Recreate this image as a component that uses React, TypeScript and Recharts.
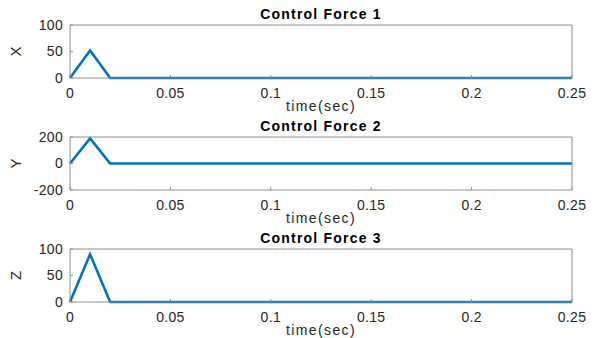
import React from 'react';
import { LineChart, Line, XAxis, YAxis } from 'recharts';

const timeSec = [0, 0.01, 0.02, 0.25];
const forceX = [0, 52, 0, 0];
const forceY = [0, 190, 0, 0];
const forceZ = [0, 90, 0, 0];
const timeTicks = [0, 0.05, 0.1, 0.15, 0.2, 0.25];
const xForceTicks = [0, 50, 100];
const yForceTicks = [-200, 0, 200];
const zForceTicks = [0, 50, 100];
const titles = ['Control Force 1', 'Control Force 2', 'Control Force 3'];
const axisNames = ['X', 'Y', 'Z'];
const timeLabel = 'time(sec)';

const panels = [
  { values: forceX, ticks: xForceTicks },
  { values: forceY, ticks: yForceTicks },
  { values: forceZ, ticks: zForceTicks },
].map((p, i) => ({
  ...p,
  title: titles[i],
  name: axisNames[i],
  data: timeSec.map((t, j) => ({ t, v: p.values[j] })),
}));

const FONT = '"Liberation Sans", Arial, Helvetica, sans-serif';
const AXIS = '#8c8c8c';
const TEXT = '#262626';
const BLUE = '#0072BD';

const W = 596;
const H = 114;
const TOP_H = 25;
const BOTTOM_H = 36;
const LEFT_W = 70;
const RIGHT_W = 24;

const TitleLabel = (props: any) => {
  const vb = props.viewBox || { x: LEFT_W, y: 0, width: W - LEFT_W - RIGHT_W, height: TOP_H };
  const cx = vb.x + vb.width / 2;
  return (
    <text x={cx} y={vb.y + vb.height - 6} textAnchor="middle" fontFamily={FONT} fontSize={14}
      fontWeight="bold" letterSpacing={1.2} fill="#000">{props.text}</text>
  );
};

const TimeLabel = (props: any) => {
  const vb = props.viewBox || { x: LEFT_W, y: H - BOTTOM_H, width: W - LEFT_W - RIGHT_W, height: BOTTOM_H };
  const cx = vb.x + vb.width / 2;
  return (
    <text x={cx} y={vb.y + 33} textAnchor="middle" fontFamily={FONT} fontSize={14}
      letterSpacing={1.4} fill={TEXT}>{props.text}</text>
  );
};

const NameLabel = (props: any) => {
  const vb = props.viewBox || { x: 0, y: TOP_H, width: LEFT_W, height: H - TOP_H - BOTTOM_H };
  const cx = vb.x + 15;
  const cy = vb.y + vb.height / 2;
  return (
    <text x={cx} y={cy} transform={`rotate(-90 ${cx} ${cy})`} textAnchor="middle"
      dominantBaseline="central" fontFamily={FONT} fontSize={15} fill={TEXT}>{props.text}</text>
  );
};

const tickStyle = { fontFamily: FONT, fontSize: 14, fill: TEXT, letterSpacing: 0.3 };

function Panel({ p }: { p: any }) {
  const domain = [p.ticks[0], p.ticks[p.ticks.length - 1]];
  return (
    <LineChart width={W} height={H} data={p.data} margin={{ top: 0, right: 0, bottom: 0, left: 0 }}>
      <XAxis xAxisId="b" dataKey="t" type="number" domain={[0, 0.25]} ticks={timeTicks}
        interval={0} height={BOTTOM_H} stroke={AXIS} tickSize={-3} tickMargin={13}
        tick={tickStyle} tickLine={{ stroke: AXIS }} axisLine={{ stroke: AXIS }}
        label={<TimeLabel text={timeLabel} />} />
      <XAxis xAxisId="top" orientation="top" dataKey="t" type="number" domain={[0, 0.25]}
        ticks={timeTicks} interval={0} height={TOP_H} stroke={AXIS} tickSize={-3} tick={false}
        tickLine={{ stroke: AXIS }} axisLine={{ stroke: AXIS }}
        label={<TitleLabel text={p.title} />} />
      <YAxis yAxisId="l" type="number" domain={domain} ticks={p.ticks} interval={0}
        width={LEFT_W} stroke={AXIS} tickSize={-3} tickMargin={10} tick={tickStyle}
        tickLine={{ stroke: AXIS }} axisLine={{ stroke: AXIS }}
        label={<NameLabel text={p.name} />} />
      <YAxis yAxisId="r" orientation="right" type="number" domain={domain} ticks={p.ticks}
        interval={0} width={RIGHT_W} stroke={AXIS} tickSize={-3} tick={false}
        tickLine={{ stroke: AXIS }} axisLine={{ stroke: AXIS }} allowDataOverflow />
      <Line xAxisId="b" yAxisId="l" dataKey="v" stroke={BLUE} strokeWidth={2.6} dot={false}
        isAnimationActive={false} strokeLinejoin="miter" />
    </LineChart>
  );
}

export default function App() {
  return (
    <div style={{ position: 'absolute', left: 0, top: 0, width: W, height: 338, background: '#fff' }}>
      {panels.map((p, i) => (
        <div key={i} style={{ position: 'absolute', left: 0, top: i * 112, width: W, height: H }}>
          <Panel p={p} />
        </div>
      ))}
    </div>
  );
}
